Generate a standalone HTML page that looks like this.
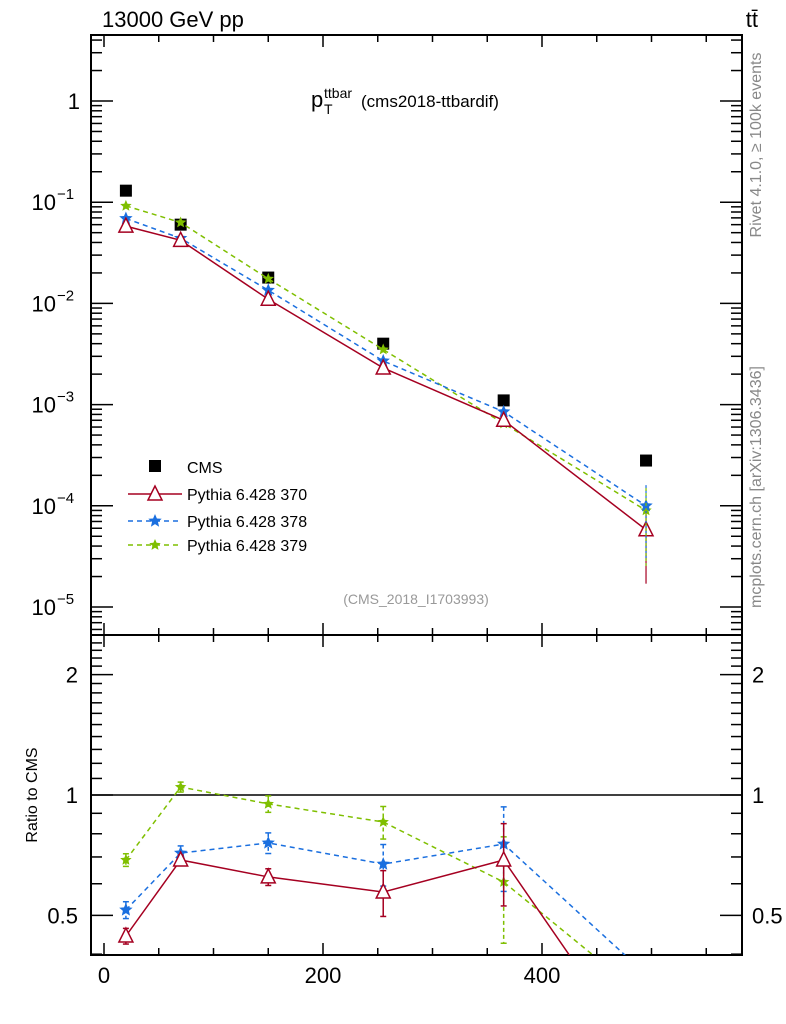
<!DOCTYPE html>
<html><head><meta charset="utf-8"><style>
html,body{margin:0;background:#fff;font-family:"Liberation Sans",sans-serif;width:786px;height:1024px;overflow:hidden}
svg{display:block}
svg text{font-family:"Liberation Sans",sans-serif}
</style></head><body>
<svg id="c" width="786" height="1024" xmlns="http://www.w3.org/2000/svg"></svg>
<script>
const xCats=[20,70,150,255,365,495];
const cms=[0.13,0.06,0.018,0.004,0.0011,0.00028];
const s370=[0.058,0.042,0.011,0.0023,0.0007,0.000058];
const s378=[0.069,0.044,0.0135,0.0027,0.00085,0.0001];
const s379=[0.092,0.063,0.0175,0.0035,0.00065,0.00009];
const r370=[0.444,0.688,0.624,0.572,0.688,0.21];
const r378=[0.516,0.716,0.759,0.672,0.754,0.356];
const r379=[0.688,1.047,0.95,0.856,0.606,0.31];
const e370=[0.02,0.02,0.03,0.075,0.16,0];
const e378=[0.025,0.03,0.045,0.08,0.18,0];
const e379=[0.025,0.03,0.045,0.08,0.18,0];
const xTicks=[0,200,400];
const yTicks=[1,0.1,0.01,0.001,0.0001,0.00001];
const yTickLabels=["1","10^-1","10^-2","10^-3","10^-4","10^-5"];
const rTicks=[0.5,1,2];

const NS="http://www.w3.org/2000/svg";
const svg=document.getElementById('c');
const L=91,R=742,T=35,M=635,B=955;
const X=v=>104+v*(219/200);
const Y=v=>101-Math.log10(v)*101.2;
const YR=v=>795-Math.log10(v)*400;
function el(t,a,p){const e=document.createElementNS(NS,t);for(const k in a)e.setAttribute(k,a[k]);(p||svg).appendChild(e);return e;}
function txt(x,y,s,a,p){const e=el('text',Object.assign({x:x,y:y},a||{}),p);e.textContent=s;return e;}

const defs=el('defs',{});
const c1=el('clipPath',{id:'cm'},defs);el('rect',{x:L,y:T,width:R-L,height:M-T},c1);
const c2=el('clipPath',{id:'cr'},defs);el('rect',{x:L,y:M,width:R-L,height:B-M},c2);

const f1=el('rect',{x:L,y:T,width:R-L,height:M-T,fill:'none',stroke:'#000','stroke-width':2});

const f2=el('rect',{x:L,y:M,width:R-L,height:B-M,fill:'none',stroke:'#000','stroke-width':2});


for(let v=0;v<=550;v+=50){const x=X(v),maj=v%200==0,l=maj?12:7;
 for(const [a,b] of [[T,1],[M,-1],[M,1],[B,-1]]) el('line',{x1:x,x2:x,y1:a,y2:a+b*l,stroke:'#000','stroke-width':1.5});}
xTicks.forEach(v=>{const t=txt(X(v),983,String(v),{'font-size':22,'text-anchor':'middle'});
 });

for(let d=-6;d<=0;d++)for(let m=1;m<10;m++){const v=m*Math.pow(10,d),y=Y(v);if(y<T||y>M)continue;const l=m==1?22:11;
 el('line',{x1:L,x2:L+l,y1:y,y2:y,stroke:'#000','stroke-width':1.5});el('line',{x1:R,x2:R-l,y1:y,y2:y,stroke:'#000','stroke-width':1.5});}
yTicks.forEach((v,i)=>{const y=Y(v);const lab=yTickLabels[i];let t;
 if(lab=="1"){t=txt(80,y+8,"1",{'font-size':22,'text-anchor':'end'});}
 else{const p=lab.split('^');t=txt(56,y+8,p[0],{'font-size':22,'text-anchor':'end'});
  const s=txt(57,y-3,p[1].replace('-','\u2212'),{'font-size':15});}
 });

for(let v=0.4;v<=2.5;v+=0.1){const y=YR(v);if(y<M||y>B)continue;const maj=[0.5,1,2].some(q=>Math.abs(q-v)<1e-6);const l=maj?22:11;
 el('line',{x1:L,x2:L+l,y1:y,y2:y,stroke:'#000','stroke-width':1.5});el('line',{x1:R,x2:R-l,y1:y,y2:y,stroke:'#000','stroke-width':1.5});}
rTicks.forEach(v=>{const y=YR(v);const s=String(v);
 const a=txt(78,y+8,s,{'font-size':22,'text-anchor':'end'});
 const b=txt(752,y+8,s,{'font-size':22});});
el('line',{x1:L,x2:R,y1:YR(1),y2:YR(1),stroke:'#000','stroke-width':1.5});

function star(x,y,r,col,g){const pts=[];for(let i=0;i<10;i++){const a=-Math.PI/2+i*Math.PI/5,rr=i%2?r*0.45:r;pts.push((x+rr*Math.cos(a)).toFixed(1)+','+(y+rr*Math.sin(a)).toFixed(1));}
 return el('polygon',{points:pts.join(' '),fill:col},g);}
function tri(x,y,g){return el('polygon',{points:`${x},${y-8} ${x-7},${y+6} ${x+7},${y+6}`,fill:'#fff',stroke:'#a50021','stroke-width':1.5},g);}
const series=[
 {n:'pythia-370',vals:s370,rv:r370,er:e370,col:'#a50021',dash:'',mk:'tri'},
 {n:'pythia-378',vals:s378,rv:r378,er:e378,col:'#1a6fdf',dash:'5,4',mk:'star',r:7},
 {n:'pythia-379',vals:s379,rv:r379,er:e379,col:'#7fbf00',dash:'5,4',mk:'star',r:6},
];
const gm=el('g',{'clip-path':'url(#cm)'});const gr=el('g',{'clip-path':'url(#cr)'});
cms.forEach((v,i)=>{const r=el('rect',{x:X(xCats[i])-6,y:Y(v)-6,width:12,height:12,fill:'#000'},gm);
 });
series.slice().reverse().forEach(s=>{
 [[gm,s.vals,Y,null],[gr,s.rv,YR,s.er]].forEach(([g,vals,f,er])=>{
  const p=el('polyline',{points:vals.map((v,i)=>X(xCats[i])+','+f(v)).join(' '),fill:'none',stroke:s.col,'stroke-width':1.5,'stroke-dasharray':s.dash},g);
  
  vals.forEach((v,i)=>{const x=X(xCats[i]),y=f(v);
   if(er&&er[i]>0){const e=er[i];el('line',{x1:x,x2:x,y1:f(v+e),y2:f(Math.max(v-e,0.05)),stroke:s.col,'stroke-width':1.5,'stroke-dasharray':s.dash?'4,3':''},g);
    el('line',{x1:x-3,x2:x+3,y1:f(v+e),y2:f(v+e),stroke:s.col,'stroke-width':1.5},g);
    el('line',{x1:x-3,x2:x+3,y1:f(v-e),y2:f(v-e),stroke:s.col,'stroke-width':1.5},g);}
   const m=s.mk=='tri'?tri(x,y,g):star(x,y,s.r,s.col,g);
   });
 });
});
[[0.000017,0.00009,'#a50021'],[0.00003,0.00016,'#1a6fdf'],[0.000025,0.00015,'#7fbf00']].forEach(([lo,hi,c])=>{
 const x=X(xCats[5]);el('line',{x1:x,x2:x,y1:Y(hi),y2:Y(lo),stroke:c,'stroke-width':1.2,'stroke-dasharray':c=='#a50021'?'':'3,2'},gm);});

const lg=el('g',{});
el('rect',{x:149,y:460,width:12,height:12,fill:'#000'},lg);
txt(187,473,'CMS',{'font-size':16},lg);
const ly=[494,521,545];
series.forEach((s,i)=>{el('line',{x1:128,x2:182,y1:ly[i],y2:ly[i],stroke:s.col,'stroke-width':1.5,'stroke-dasharray':s.dash},lg);
 s.mk=='tri'?tri(155,ly[i],lg):star(155,ly[i],s.r,s.col,lg);
 const t=txt(187,ly[i]+6,['Pythia 6.428 370','Pythia 6.428 378','Pythia 6.428 379'][i],{'font-size':16},lg);
 });

let t=txt(102,27,'13000 GeV pp',{'font-size':22});
t=txt(758,27,'tt\u0304',{'font-size':22,'text-anchor':'end'});
t=txt(311,107,'p',{'font-size':22});
txt(324,98,'ttbar',{'font-size':14});txt(324,114,'T',{'font-size':14});
txt(361,107,'(cms2018-ttbardif)',{'font-size':17});
t=txt(416,604,'(CMS_2018_I1703993)',{'font-size':14,fill:'#999','text-anchor':'middle'});
t=txt(0,0,'Ratio to CMS',{'font-size':16,'text-anchor':'middle',transform:'translate(37,795) rotate(-90)'});
t=txt(0,0,'Rivet 4.1.0, \u2265 100k events',{'font-size':16,fill:'#888','text-anchor':'middle',transform:'translate(761,145) rotate(-90)'});
t=txt(0,0,'mcplots.cern.ch [arXiv:1306.3436]',{'font-size':16,fill:'#888','text-anchor':'middle',transform:'translate(761,487) rotate(-90)'});
</script>
</body></html>
